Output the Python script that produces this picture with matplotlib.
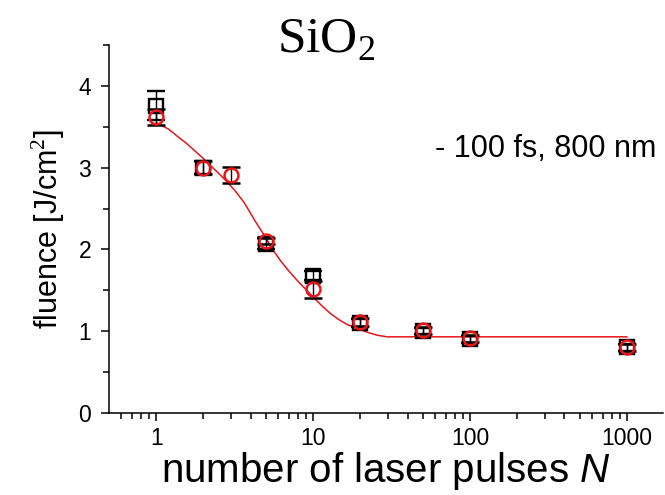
import numpy as np
import matplotlib.pyplot as plt
from matplotlib.ticker import FixedLocator, NullFormatter

plt.rcParams['mathtext.fontset'] = 'custom'
plt.rcParams['mathtext.rm'] = 'Liberation Sans'
plt.rcParams['mathtext.it'] = 'Liberation Sans:italic'

# black squares
sq_n = [1, 2, 5, 10, 20, 50, 100, 1000]
sq_f = [3.76, 3.00, 2.07, 1.68, 1.10, 1.00, 0.90, 0.80]
sq_err = [0.18, 0.08, 0.07, 0.05, 0.05, 0.04, 0.04, 0.04]

# red circles
ci_n = [1, 2, 3, 5, 10, 20, 50, 100, 1000]
ci_f = [3.62, 3.00, 2.91, 2.10, 1.51, 1.11, 1.01, 0.91, 0.80]
ci_err = [0.10, 0.08, 0.10, 0.04, 0.10, 0.05, 0.04, 0.04, 0.04]

# fit curve
fit_n = [1.0, 1.2, 1.37, 1.55, 1.75, 2.0, 2.23, 2.5, 2.85, 3.2, 3.64, 4.32,
         5.0, 5.51, 6.2, 7.03, 8.0, 8.98, 10.2, 11.5, 13.0, 14.6, 16.5,
         18.7, 20.5, 22.7, 25.5, 29.7, 1000]
fit_f = [3.55, 3.47, 3.38, 3.30, 3.21, 3.11, 3.02, 2.93, 2.82, 2.71, 2.57,
         2.33, 2.14, 2.00, 1.86, 1.73, 1.61, 1.51, 1.40, 1.30, 1.21, 1.14,
         1.08, 1.04, 1.01, 0.98, 0.95, 0.93, 0.93]

xticks = [1, 10, 100, 1000]
xticklabels = ['1', '10', '100', '1000']
yticks = [0, 1, 2, 3, 4]

fig = plt.figure(figsize=(6.65, 4.95), dpi=100)
ax = fig.add_axes([0.164, 0.166, 0.833, 0.743])

ax.plot(fit_n, fit_f, '-', color='#e8161b', lw=1.1, zorder=2)

ax.errorbar(sq_n, sq_f, yerr=sq_err, fmt='s', ms=10, mfc='none', mec='k',
            mew=1.7, ecolor='k', elinewidth=1.0, capsize=6.5, capthick=1.5,
            zorder=3)
ax.errorbar(ci_n, ci_f, yerr=ci_err, fmt='o', ms=10, mfc='none',
            mec='#e8161b', mew=1.8, ecolor='k', elinewidth=1.0, capsize=6.5,
            capthick=1.5, zorder=4)

ax.set_xscale('log')
ax.set_xlim(0.5, 1700)
ax.set_ylim(0, 4.5)

ax.xaxis.set_major_locator(FixedLocator(xticks))
ax.set_xticklabels(xticklabels)
minor = [m * 10.0**d for d in range(-1, 3) for m in range(2, 10)]
minor = [v for v in minor if 0.5 < v < 1000]
ax.xaxis.set_minor_locator(FixedLocator(minor))
ax.xaxis.set_minor_formatter(NullFormatter())
ax.yaxis.set_major_locator(FixedLocator(yticks))
ax.yaxis.set_minor_locator(FixedLocator([0.5, 1.5, 2.5, 3.5, 4.5]))

for s in ['top', 'right']:
    ax.spines[s].set_visible(False)
for s in ['left', 'bottom']:
    ax.spines[s].set_linewidth(1.1)

ax.tick_params(which='major', direction='out', length=6, width=1.1,
               labelsize=16.5, pad=7)
ax.tick_params(axis='x', which='major', pad=4)
ax.tick_params(which='minor', direction='out', length=4, width=1.1)
for lab in ax.get_xticklabels() + ax.get_yticklabels():
    lab.set_family('Liberation Sans')

ax.set_xlabel('number of laser pulses $N$', fontsize=29,
              family='Liberation Sans', labelpad=0)
ax.set_ylabel('fluence [J/cm$^2$]', fontsize=22, family='Liberation Sans',
              labelpad=8)

ax.text(0.588, 3.23, '- 100 fs, 800 nm', fontsize=22,
        family='Liberation Sans', va='center', ha='left',
        transform=ax.get_yaxis_transform())

fig.text(0.49, 0.918, 'SiO$_2$', fontsize=37, family='Liberation Serif',
         ha='center', va='center')
plt.rcParams['mathtext.rm'] = 'Liberation Serif'

fig.savefig('out.png', dpi=100)
